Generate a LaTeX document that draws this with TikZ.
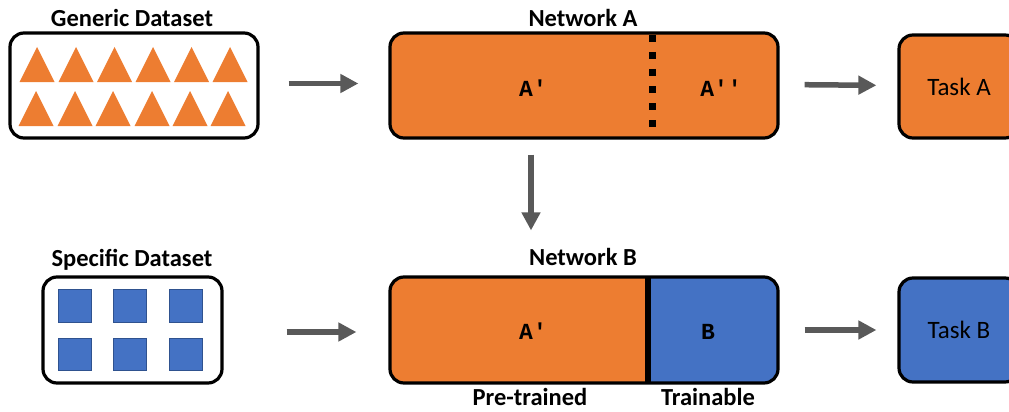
\documentclass[tikz,border=0pt]{standalone}
\usepackage{fontspec}
\setmainfont{Carlito}
\setmonofont{Liberation Mono}
\usetikzlibrary{arrows.meta}
\definecolor{orng}{HTML}{ED7D31}
\definecolor{blu}{HTML}{4472C4}
\definecolor{bluedge}{HTML}{2F528F}
\definecolor{arrgray}{HTML}{595959}
\tikzset{
  box/.style={draw=black, line width=3.2pt, rounded corners=14pt, inner sep=0pt},
  title/.style={font=\fontsize{24.5}{27}\selectfont\bfseries, inner sep=0pt, anchor=base},
  mono/.style={font=\fontsize{23}{25}\selectfont\ttfamily\bfseries, inner sep=0pt, anchor=base},
  tasktext/.style={font=\fontsize{25}{28}\selectfont},
  arr/.style={draw=arrgray, line width=5.5pt, -{Triangle[length=18pt,width=18pt]}},
  tri/.style={fill=orng},
  sq/.style={fill=blu, draw=bluedge, line width=0.6pt},
}
\begin{document}
\begin{tikzpicture}[x=1pt, y=-1pt]
\useasboundingbox (0,0) rectangle (1009,412);
\clip (0,0) rectangle (1009,412);

% ---- Generic dataset ----
\node[box, minimum width=248pt, minimum height=105pt] (gen) at (134,85.5) {};
\node[title] (genT) at (132,27) {Generic Dataset};
\foreach \cx in {37,76,114.5,153,191.5,230} {
  \fill[tri] (\cx-17.5,82) -- (\cx,47) -- (\cx+17.5,82) -- cycle;
}
\foreach \cx in {36,75,113,152,190,228} {
  \fill[tri] (\cx-17.5,126) -- (\cx,91) -- (\cx+17.5,126) -- cycle;
}

% ---- Network A ----
\node[box, fill=orng, minimum width=388pt, minimum height=105pt] (netA) at (584,85.5) {};
\node[title] (netAT) at (583,27) {Network A};
\draw[line width=7pt, dash pattern=on 7pt off 10pt] (652,35) -- (652,137);
\node[mono] (aA1) at (533,96) {A′};
\node[mono] (aA2) at (721,96) {A′′};

% ---- Task A ----
\node[box, fill=orng, minimum width=120pt, minimum height=103pt] (taskA) at (959,86.5) {};
\node[tasktext] at (taskA) {Task A};

% ---- Specific dataset ----
\node[box, minimum width=179pt, minimum height=106pt] (spec) at (132.5,330) {};
\node[title] (specT) at (132,266) {Specific Dataset};
\foreach \cx in {74.5,129.5,185.5} {
  \filldraw[sq] (\cx-16.5,289) rectangle (\cx+16.5,322);
  \filldraw[sq] (\cx-16.5,338) rectangle (\cx+16.5,370);
}

% ---- Network B ----
\begin{scope}
  \clip[rounded corners=14pt] (390,277) rectangle (778,383);
  \fill[orng] (390,277) rectangle (648,383);
  \fill[blu] (648,277) rectangle (778,383);
\end{scope}
\node[box, minimum width=388pt, minimum height=106pt] (netB) at (584,330) {};
\draw[line width=6pt] (648,277) -- (648,383);
\node[title] (netBT) at (583,265) {Network B};
\node[mono] (bA) at (533,339) {A′};
\node[mono] (bB) at (708,339) {B};
\node[title] (pre) at (530,405) {Pre-trained};
\node[title] (trn) at (708,405) {Trainable};

% ---- Task B ----
\node[box, fill=blu, minimum width=120pt, minimum height=104pt] (taskB) at (959,330) {};
\node[tasktext] at (taskB) {Task B};

% ---- Arrows ----
\draw[arr, shorten <=29pt, shorten >=30pt] ([yshift=2pt]gen.east) -- ([yshift=2pt]netA.west);
\draw[arr, shorten <=25pt, shorten >=21pt] ([yshift=1pt]netA.east) -- ([yshift=1pt]taskA.west);
\draw[arr, shorten <=63pt, shorten >=32pt] ([yshift=-2pt]spec.east) -- ([yshift=-2pt]netB.west);
\draw[arr, shorten <=25pt, shorten >=21pt] (netB.east) -- (taskB.west);
\draw[arr, shorten <=15pt, shorten >=45pt] ([xshift=-53pt]netA.south) -- ([xshift=-53pt]netB.north);
\end{tikzpicture}
\end{document}
